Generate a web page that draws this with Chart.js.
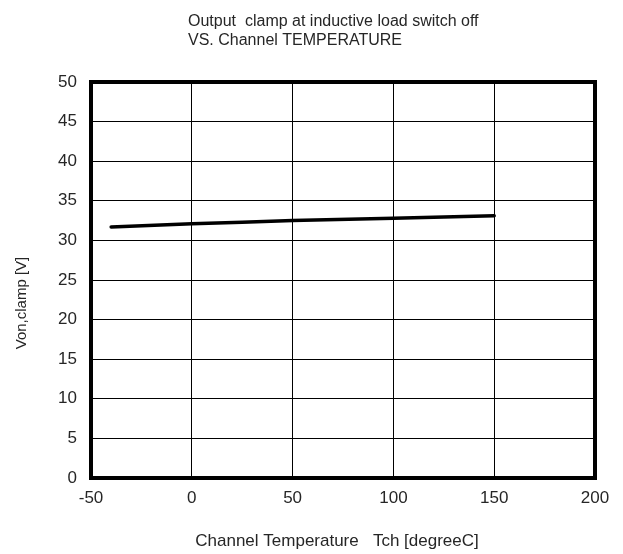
<!DOCTYPE html>
<html><head><meta charset="utf-8">
<script src="https://cdn.jsdelivr.net/npm/chart.js@4.4.1/dist/chart.umd.min.js"></script>
<style>html,body{margin:0;padding:0;background:#fff}#wrap{width:623px;height:554px}</style>
</head><body><div id="wrap"><canvas id="c" width="623" height="554"></canvas></div>
<script>
const temperatures = [-40, 0, 25, 50, 100, 150];
const clampVoltage = [31.7, 32.1, 32.3, 32.5, 32.8, 33.1];
const titleLines = ["Output  clamp at inductive load switch off", "VS. Channel TEMPERATURE"];
const xAxisTitle = "Channel Temperature   Tch [degreeC]";
const yAxisTitle = "Von,clamp [V]";

const FONT = "'Liberation Sans', Arial, sans-serif";
const TXT = '#262626';

const framePlugin = {
  id: 'frame',
  afterDraw(chart) {
    const {ctx, chartArea: a} = chart;
    ctx.save();
    ctx.strokeStyle = '#000';
    ctx.lineWidth = 4;
    ctx.strokeRect(a.left, a.top, a.right - a.left, a.bottom - a.top);
    ctx.fillStyle = TXT;
    ctx.textBaseline = 'middle';
    ctx.textAlign = 'left';
    ctx.font = "16px " + FONT;
    ctx.fillText(titleLines[0], 188, 22);
    ctx.fillText(titleLines[1], 188, 41);
    ctx.textAlign = 'center';
    ctx.font = "17px " + FONT;
    ctx.fillText(xAxisTitle, 337, 541);
    ctx.translate(22, 303);
    ctx.rotate(-Math.PI / 2);
    ctx.font = "15px " + FONT;
    ctx.fillText(yAxisTitle, 0, 0);
    ctx.restore();
  }
};

new Chart(document.getElementById('c'), {
  type: 'line',
  data: {
    datasets: [{
      data: temperatures.map((t, i) => ({x: t, y: clampVoltage[i]})),
      borderColor: '#000',
      borderWidth: 3.5,
      pointRadius: 0,
      borderCapStyle: 'round',
      tension: 0,
      fill: false
    }]
  },
  options: {
    responsive: false,
    animation: false,
    layout: {padding: {left: 0, right: 28, top: 82, bottom: 0}},
    plugins: {legend: {display: false}, tooltip: {enabled: false}, title: {display: false}},
    scales: {
      x: {
        type: 'linear', min: -50, max: 200,
        ticks: {stepSize: 50, color: TXT, font: {size: 17, family: FONT}, padding: 10, maxRotation: 0},
        grid: {color: '#000', lineWidth: 1, drawTicks: false},
        border: {display: false},
        afterFit(s) { s.height = 76; }
      },
      y: {
        type: 'linear', min: 0, max: 50,
        ticks: {stepSize: 5, color: TXT, font: {size: 17, family: FONT}, padding: 14},
        grid: {color: '#000', lineWidth: 1, drawTicks: false},
        border: {display: false},
        afterFit(s) { s.width = 91; }
      }
    }
  },
  plugins: [framePlugin]
});
</script></body></html>
